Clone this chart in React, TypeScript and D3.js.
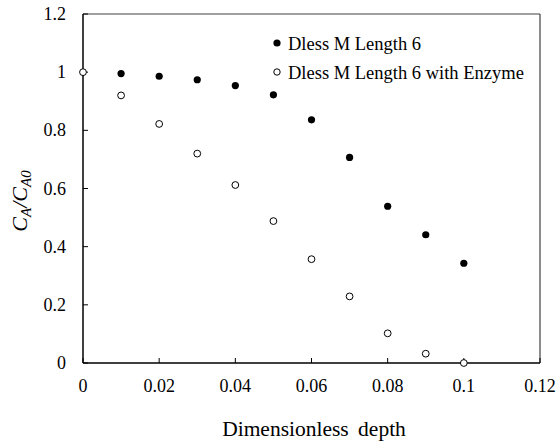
import React from "react";
import * as d3 from "d3";

const depthFilled = [0.01, 0.02, 0.03, 0.04, 0.05, 0.06, 0.07, 0.08, 0.09, 0.1];
const valuesFilled = [0.995, 0.986, 0.974, 0.954, 0.922, 0.836, 0.707, 0.539, 0.441, 0.343];
const depthOpen = [0, 0.01, 0.02, 0.03, 0.04, 0.05, 0.06, 0.07, 0.08, 0.09, 0.1];
const valuesOpen = [1.0, 0.92, 0.822, 0.72, 0.612, 0.488, 0.357, 0.229, 0.102, 0.032, 0.0];
const xTicks = [0, 0.02, 0.04, 0.06, 0.08, 0.1, 0.12];
const yTicks = [0, 0.2, 0.4, 0.6, 0.8, 1, 1.2];
const seriesNames = ["Dless M Length 6", "Dless M Length 6 with Enzyme"];

const W = 558;
const H = 444;
const left = 83;
const right = 540;
const top = 14;
const bottom = 363;
const font = "Liberation Serif";

export default function App() {
  const x = d3.scaleLinear().domain([0, 0.12]).range([left, right]);
  const y = d3.scaleLinear().domain([0, 1.2]).range([bottom, top]);
  const fmt = (v: number) => (v === 0 ? "0" : String(+v.toFixed(2)));
  const ts = { fontFamily: font };

  return (
    <svg width={W} height={H} style={{ position: "absolute", left: 0, top: 0 }}>
      <rect x={0} y={0} width={W} height={H} fill="#fff" />
      <line x1={left} y1={top} x2={right} y2={top} stroke="#404040" strokeWidth={1.2} />
      <line x1={right} y1={top} x2={right} y2={bottom} stroke="#404040" strokeWidth={1.2} />
      <line x1={left} y1={top} x2={left} y2={bottom} stroke="#000" strokeWidth={1.5} />
      <line x1={left} y1={bottom} x2={right} y2={bottom} stroke="#000" strokeWidth={1.5} />
      {xTicks.map((t) => (
        <g key={"xt" + t}>
          <line x1={x(t)} x2={x(t)} y1={bottom} y2={bottom - 5} stroke="#000" strokeWidth={1} />
          <text x={x(t)} y={392} textAnchor="middle" style={ts} fontSize={18} fill="#000">
            {fmt(t)}
          </text>
        </g>
      ))}
      {yTicks.map((t) => (
        <g key={"yt" + t}>
          <line x1={left} x2={left + 5} y1={y(t)} y2={y(t)} stroke="#000" strokeWidth={1} />
          <text x={66} y={y(t)} dy="0.34em" textAnchor="end" style={ts} fontSize={18} fill="#000">
            {fmt(t)}
          </text>
        </g>
      ))}
      {depthFilled.map((d, i) => (
        <circle key={"f" + i} cx={x(d)} cy={y(valuesFilled[i])} r={3.6} fill="#000" />
      ))}
      {depthOpen.map((d, i) => (
        <circle key={"o" + i} cx={x(d)} cy={y(valuesOpen[i])} r={3.4} fill="#fff" stroke="#000" strokeWidth={1} />
      ))}
      <circle cx={277} cy={43} r={3.6} fill="#000" />
      <text x={288} y={50} style={ts} fontSize={18.5} fill="#000">
        {seriesNames[0]}
      </text>
      <circle cx={277} cy={72} r={3.2} fill="#fff" stroke="#000" strokeWidth={1} />
      <text x={288} y={79} style={ts} fontSize={18.5} fill="#000">
        {seriesNames[1]}
      </text>
      <text x={314} y={436} textAnchor="middle" style={ts} fontSize={21.5} fill="#000" wordSpacing={4}>
        Dimensionless depth
      </text>
      <text
        transform={`translate(27, ${201}) rotate(-90)`}
        textAnchor="middle"
        style={ts}
        fontSize={22}
        fontStyle="italic"
        fill="#000"
      >
        C<tspan fontSize={15} dy={4}>A</tspan>
        <tspan dy={-4}>/C</tspan>
        <tspan fontSize={15} dy={4}>A0</tspan>
      </text>
    </svg>
  );
}
